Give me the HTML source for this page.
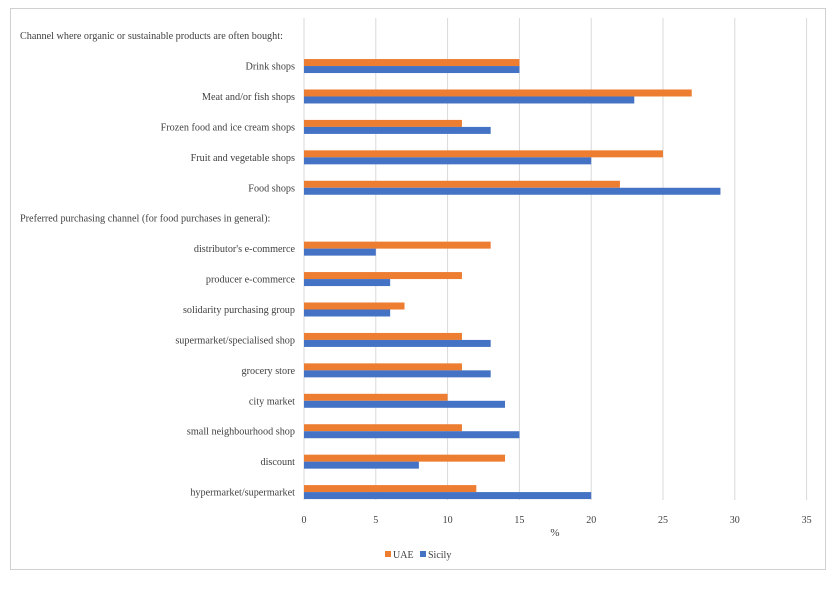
<!DOCTYPE html>
<html><head><meta charset="utf-8"><style>
body{margin:0;background:#fff;font-family:"Liberation Serif",serif;}
svg text{font-family:"Liberation Serif",serif;fill:#404040;}
</style></head><body>
<svg width="836" height="584">
<rect x="10.5" y="8.5" width="815" height="561" fill="#fff" stroke="#d0d0d0"/>
<g id="grid"></g><g id="bars"></g><g id="labels"></g>
<text x="555" y="536" font-size="11" text-anchor="middle">%</text>
<g>
<rect x="385" y="551" width="6" height="6" fill="#ed7d31"/>
<text x="393" y="558" font-size="10">UAE</text>
<rect x="420" y="551" width="6" height="6" fill="#4472c4"/>
<text x="428" y="558" font-size="10">Sicily</text>
</g>
</svg>
<script>
const categories=["Channel where organic or sustainable products are often bought:","Drink shops","Meat and/or fish shops","Frozen food and ice cream shops","Fruit and vegetable shops","Food shops","Preferred purchasing channel (for food purchases in general):","distributor's e-commerce","producer e-commerce","solidarity purchasing group","supermarket/specialised shop","grocery store","city market","small neighbourhood shop","discount","hypermarket/supermarket"];
const uae=[null,15,27,11,25,22,null,13,11,7,11,11,10,11,14,12];
const sicily=[null,15,23,13,20,29,null,5,6,6,13,13,14,15,8,20];
const ticks=[0,5,10,15,20,25,30,35];
const NS="http://www.w3.org/2000/svg";
const xs=v=>304+v*14.36;
const plotTop=20.4,plotBottom=507.3,band=(plotBottom-plotTop)/categories.length;
const yc=i=>plotTop+band*(i+0.5);
function mk(t,a,p){const e=document.createElementNS(NS,t);for(const k in a)e.setAttribute(k,a[k]);document.getElementById(p).appendChild(e);return e;}
ticks.forEach(t=>{
 const l=mk('line',{x1:xs(t),x2:xs(t),y1:18,y2:500,stroke:'#d9d9d9'},'grid');
 
 
 const tx=mk('text',{x:xs(t),y:523,'font-size':10,'text-anchor':'middle'},'grid');tx.textContent=t;
 
 
});
categories.forEach((c,i)=>{
 const hdr=uae[i]===null;
 const tx=mk('text',{x:hdr?20:295,y:yc(i)+3.5,'font-size':10.2,'text-anchor':hdr?'start':'end'},'labels');tx.textContent=c;
 
 
 if(uae[i]!==null){
  const b1=mk('rect',{x:xs(0),y:yc(i)-7,width:xs(uae[i])-xs(0),height:7,fill:'#ed7d31'},'bars');
  
  
 }
 if(sicily[i]!==null){
  const b2=mk('rect',{x:xs(0),y:yc(i),width:xs(sicily[i])-xs(0),height:7,fill:'#4472c4'},'bars');
  
  
 }
});
</script>
</body></html>
